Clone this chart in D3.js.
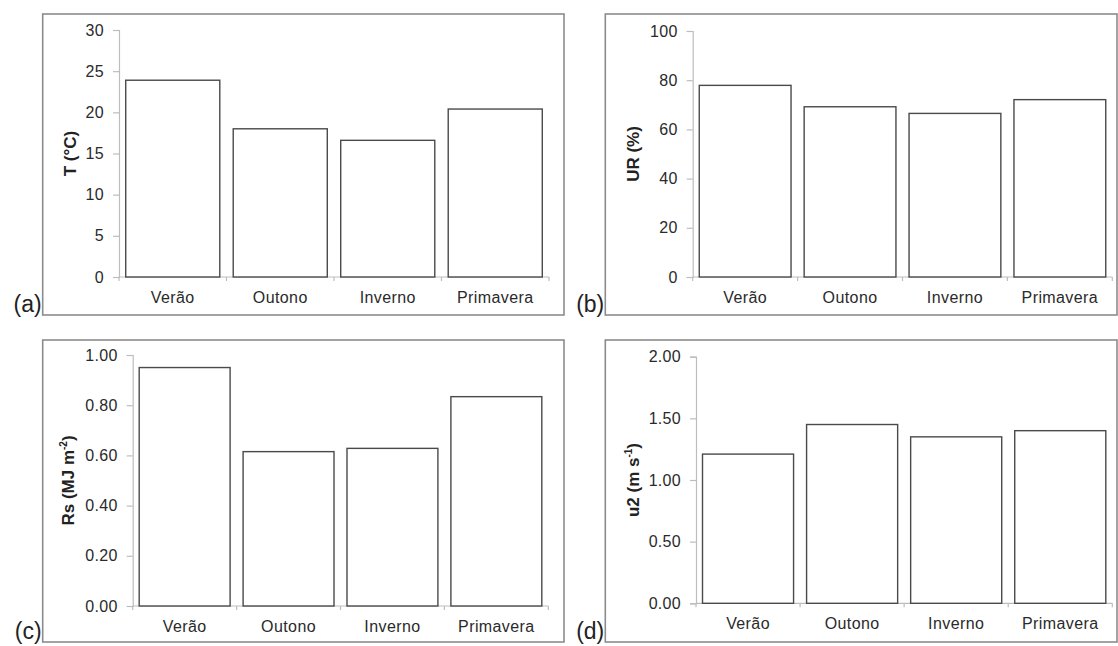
<!DOCTYPE html>
<html>
<head>
<meta charset="utf-8">
<script src="https://cdn.jsdelivr.net/npm/d3@7"></script>
<style>
  body { margin: 0; background: #fff; }
  svg { display: block; font-family: "Liberation Sans", Arial, sans-serif; }
</style>
</head>
<body>
<svg id="chart" width="1118" height="646"></svg>
<script>
var seasons = ['Verão', 'Outono', 'Inverno', 'Primavera'];

var temperature = [23.9, 18.0, 16.6, 20.4];
var humidity = [77.9, 69.2, 66.5, 72.1];
var radiation = [0.95, 0.615, 0.628, 0.834];
var wind = [1.21, 1.45, 1.35, 1.40];

var tempTicks = [0, 5, 10, 15, 20, 25, 30];
var humidityTicks = [0, 20, 40, 60, 80, 100];
var radiationTicks = [0, 0.2, 0.4, 0.6, 0.8, 1.0];
var windTicks = [0, 0.5, 1.0, 1.5, 2.0];

var panels = [
  { tag: '(a)', values: temperature, ticks: tempTicks, fmt: d3.format('d'),
    title: ['T (°C)'],
    frame: { x0: 42.7, x1: 564, y0: 14, y1: 315 },
    plot: { x0: 119, x1: 549, y0: 30, y1: 277 }, titleX: 72 },
  { tag: '(b)', values: humidity, ticks: humidityTicks, fmt: d3.format('d'),
    title: ['UR (%)'],
    frame: { x0: 605.3, x1: 1117, y0: 14, y1: 315 },
    plot: { x0: 692.7, x1: 1112.3, y0: 31, y1: 277 }, titleX: 635 },
  { tag: '(c)', values: radiation, ticks: radiationTicks, fmt: d3.format('.2f'),
    title: ['Rs (MJ m', '-2', ')'],
    frame: { x0: 42.7, x1: 564, y0: 340, y1: 642 },
    plot: { x0: 132.7, x1: 548.3, y0: 355, y1: 606 }, titleX: 70 },
  { tag: '(d)', values: wind, ticks: windTicks, fmt: d3.format('.2f'),
    title: ['u2 (m s', '-1', ')'],
    frame: { x0: 605.3, x1: 1117, y0: 340, y1: 642 },
    plot: { x0: 696, x1: 1112.3, y0: 356.7, y1: 603.3 }, titleX: 635 }
];

var svg = d3.select('#chart');

function drawPanel(p) {
  var g = svg.append('g');
  var f = p.frame, pl = p.plot;

  // outer frame of the panel
  g.append('rect')
    .attr('x', f.x0).attr('y', f.y0)
    .attr('width', f.x1 - f.x0).attr('height', f.y1 - f.y0)
    .attr('fill', 'none').attr('stroke', '#8c8c8c').attr('stroke-width', 1.6);

  g.append('text')
    .attr('x', f.x0 - 1).attr('y', f.y1 - 3)
    .attr('text-anchor', 'end')
    .attr('font-size', 23).attr('fill', '#222')
    .text(p.tag);

  var x = d3.scaleBand().domain(seasons).range([pl.x0, pl.x1])
    .paddingInner(0.125).paddingOuter(0.0625);
  var y = d3.scaleLinear().domain([0, d3.max(p.ticks)]).range([pl.y1, pl.y0]);

  // y axis
  var yAxis = g.append('g')
    .attr('transform', 'translate(' + pl.x0 + ',0)')
    .call(d3.axisLeft(y).tickValues(p.ticks).tickFormat(p.fmt).tickSize(6).tickPadding(9));
  yAxis.select('.domain').attr('stroke', '#bdbdbd').attr('stroke-width', 1.2);
  yAxis.selectAll('.tick line').attr('stroke', '#bdbdbd').attr('stroke-width', 1.2);
  yAxis.selectAll('.tick text')
    .attr('font-size', 16).attr('fill', '#2a2a2a')
    .attr('letter-spacing', 0.3)
    .attr('font-family', '"Liberation Sans", Arial, sans-serif');

  // x axis with ticks on category boundaries
  var step = x.step();
  var bounds = d3.range(seasons.length + 1).map(function (i) { return pl.x0 + i * step; });
  g.append('line')
    .attr('x1', pl.x0).attr('x2', pl.x1).attr('y1', pl.y1).attr('y2', pl.y1)
    .attr('stroke', '#bdbdbd').attr('stroke-width', 1.2);
  g.selectAll('.xtick').data(bounds).enter().append('line')
    .attr('class', 'xtick')
    .attr('x1', function (d) { return d; }).attr('x2', function (d) { return d; })
    .attr('y1', pl.y1).attr('y2', pl.y1 + 4)
    .attr('stroke', '#bdbdbd').attr('stroke-width', 1.2);
  g.selectAll('.xlabel').data(seasons).enter().append('text')
    .attr('class', 'xlabel')
    .attr('x', function (d) { return x(d) + x.bandwidth() / 2; })
    .attr('y', pl.y1 + 26)
    .attr('text-anchor', 'middle')
    .attr('font-size', 16).attr('fill', '#2a2a2a')
    .attr('letter-spacing', 0.4)
    .text(function (d) { return d; });

  // bars
  g.selectAll('.bar').data(p.values).enter().append('rect')
    .attr('class', 'bar')
    .attr('x', function (d, i) { return x(seasons[i]); })
    .attr('y', function (d) { return y(d); })
    .attr('width', x.bandwidth())
    .attr('height', function (d) { return y(0) - y(d); })
    .attr('fill', '#fff').attr('stroke', '#4a4a4a').attr('stroke-width', 1.4);

  // rotated axis title
  var cy = (pl.y0 + pl.y1) / 2;
  var t = g.append('text')
    .attr('transform', 'translate(' + p.titleX + ',' + cy + ') rotate(-90)')
    .attr('text-anchor', 'middle').attr('dominant-baseline', 'middle')
    .attr('font-size', 17).attr('font-weight', 'bold').attr('fill', '#222');
  t.append('tspan').text(p.title[0]);
  if (p.title.length > 1) {
    t.append('tspan').attr('font-size', 10).attr('dy', -6).text(p.title[1]);
    t.append('tspan').attr('dy', 6).text(p.title[2]);
  }
}

panels.forEach(drawPanel);
</script>
</body>
</html>
